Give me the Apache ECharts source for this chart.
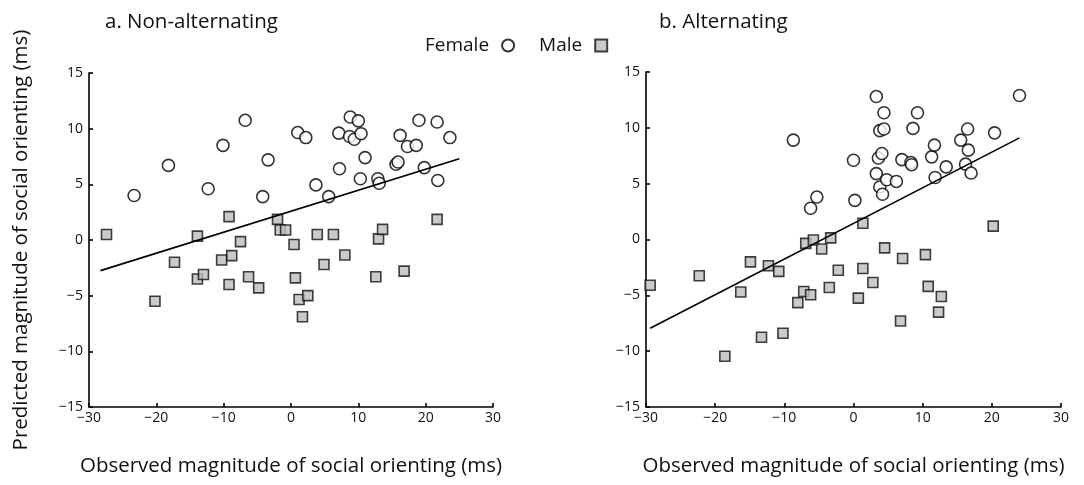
<!DOCTYPE html>
<html>
<head>
<meta charset="utf-8">
<script src="https://cdn.jsdelivr.net/npm/echarts@6/dist/echarts.min.js"></script>
<style>html,body{margin:0;padding:0;background:#fff}#c{width:1084px;height:485px}</style>
</head>
<body>
<div id="c"></div>
<script>
// Panel a: Non-alternating
const aFemale = [[-23.3,4.0],[-18.2,6.7],[-12.3,4.6],[-10.1,8.5],[-6.8,10.75],[-4.2,3.9],[-3.4,7.2],[1.0,9.65],[2.2,9.2],[3.7,4.95],[5.6,3.9],[7.1,9.6],[7.2,6.4],[8.8,11.05],[10.0,10.7],[8.7,9.3],[9.4,9.05],[10.4,9.55],[11.0,7.4],[10.3,5.5],[12.9,5.5],[13.1,5.1],[15.6,6.8],[15.9,7.0],[16.2,9.4],[17.3,8.4],[18.6,8.5],[19.0,10.75],[19.8,6.5],[21.7,10.6],[21.8,5.35],[23.6,9.2]];
const aMale = [[-27.4,0.5],[-20.2,-5.5],[-17.3,-2.0],[-13.9,0.35],[-13.9,-3.5],[-13.0,-3.1],[-9.2,2.1],[-10.3,-1.8],[-8.8,-1.4],[-9.2,-4.0],[-7.5,-0.15],[-6.3,-3.3],[-4.8,-4.3],[-2.0,1.85],[-1.6,0.9],[-0.8,0.9],[0.45,-0.4],[0.65,-3.4],[1.2,-5.35],[2.5,-5.0],[1.7,-6.9],[3.9,0.5],[4.9,-2.2],[6.3,0.5],[8.0,-1.35],[12.6,-3.3],[13.0,0.1],[13.6,0.95],[16.8,-2.8],[21.7,1.85]];
const aFit = [[-28.3,-2.75],[25.0,7.3]];
// Panel b: Alternating
const bFemale = [[-8.7,8.9],[-6.2,2.8],[-5.3,3.8],[0.0,7.1],[0.2,3.5],[3.3,12.8],[4.4,11.35],[3.8,9.75],[4.4,9.9],[3.6,7.3],[4.1,7.7],[3.3,5.9],[3.8,4.7],[4.2,4.05],[4.8,5.35],[6.2,5.2],[7.0,7.15],[8.3,6.9],[8.4,6.7],[8.6,9.95],[9.25,11.35],[11.3,7.4],[11.7,8.45],[11.8,5.55],[13.4,6.5],[15.5,8.9],[16.5,9.9],[16.6,8.0],[16.2,6.75],[17.0,5.95],[20.4,9.55],[24.0,12.9]];
const bMale = [[-29.4,-4.1],[-22.3,-3.25],[-18.6,-10.45],[-16.3,-4.7],[-14.9,-2.0],[-13.3,-8.75],[-12.3,-2.35],[-10.8,-2.85],[-10.2,-8.4],[-8.05,-5.65],[-7.2,-4.65],[-6.9,-0.35],[-6.2,-4.95],[-5.8,-0.05],[-4.6,-0.85],[-3.5,-4.3],[-3.3,0.15],[-2.2,-2.75],[0.7,-5.25],[1.35,1.45],[1.35,-2.6],[2.8,-3.85],[4.5,-0.75],[6.8,-7.3],[7.1,-1.7],[10.4,-1.35],[10.8,-4.2],[12.7,-5.1],[12.3,-6.5],[20.2,1.2]];
const bFit = [[-29.4,-7.95],[24.0,9.1]];

const panelTitles = ['a. Non-alternating','b. Alternating'];
const xName = 'Observed magnitude of social orienting (ms)';
const yName = 'Predicted magnitude of social orienting (ms)';

const FONT = '"Open Sans", "Noto Sans", sans-serif';
const minus = v => String(v).replace('-', '\u2212');
const femaleStyle = {color:'#fff', borderColor:'#000', borderWidth:1.6};
const maleStyle = {color:'#bdbdc1', borderColor:'#111', borderWidth:1.6};

function xAx(i){
  return {gridIndex:i, type:'value', min:-30, max:30, interval:10,
    name: xName, nameLocation:'middle', nameGap:49,
    nameTextStyle:{fontFamily:FONT, fontSize:20.5, color:'#111'},
    axisLine:{onZero:false, lineStyle:{color:'#000', width:1.6}},
    axisTick:{inside:true, length:4, lineStyle:{color:'#000', width:1.6}},
    axisLabel:{fontFamily:FONT, fontSize:14, color:'#111', margin:4, formatter:minus},
    splitLine:{show:false}};
}
function yAx(i, name){
  return {gridIndex:i, type:'value', min:-15, max:15, interval:5,
    name: name, nameLocation:'middle', nameGap:57,
    nameTextStyle:{fontFamily:FONT, fontSize:20.5, color:'#111'},
    axisLine:{show:true, onZero:false, lineStyle:{color:'#000', width:1.6}},
    axisTick:{inside:true, length:4, lineStyle:{color:'#000', width:1.6}},
    axisLabel:{fontFamily:FONT, fontSize:14, color:'#111', margin:6, formatter:minus},
    splitLine:{show:false}};
}
function scat(name, data, i, sym, size, style){
  return {name:name, type:'scatter', xAxisIndex:i, yAxisIndex:i, data:data,
    symbol:sym, symbolSize:size, itemStyle:style, z:3};
}
function fit(data, i){
  return {type:'line', xAxisIndex:i, yAxisIndex:i, data:data, symbol:'none',
    lineStyle:{color:'#000', width:1.6}, z:4, silent:true};
}

const chart = echarts.init(document.getElementById('c'), null, {renderer:'canvas'});
chart.setOption({
  backgroundColor:'#fff',
  animation:false,
  title:[
    {text:panelTitles[0], left:100, top:7, textStyle:{fontFamily:FONT, fontSize:20.5, fontWeight:'normal', color:'#111'}},
    {text:panelTitles[1], left:654, top:7, textStyle:{fontFamily:FONT, fontSize:20.5, fontWeight:'normal', color:'#111'}}
  ],
  legend:{left:420, top:31, align:'right', itemGap:24, itemWidth:12, itemHeight:12,
    textStyle:{fontFamily:FONT, fontSize:19, color:'#111', padding:[0,8,0,0]},
    data:[{name:'Female', icon:'circle'},{name:'Male', icon:'rect'}]},
  grid:[
    {left:89, top:73, width:404, height:334},
    {left:646, top:72, width:415, height:335}
  ],
  xAxis:[xAx(0), xAx(1)],
  yAxis:[yAx(0, yName), yAx(1, '')],
  series:[
    scat('Female', aFemale, 0, 'circle', 12, femaleStyle),
    scat('Male', aMale, 0, 'rect', 10, maleStyle),
    fit(aFit, 0),
    scat('Female', bFemale, 1, 'circle', 12, femaleStyle),
    scat('Male', bMale, 1, 'rect', 10, maleStyle),
    fit(bFit, 1)
  ]
});
</script>
</body>
</html>
